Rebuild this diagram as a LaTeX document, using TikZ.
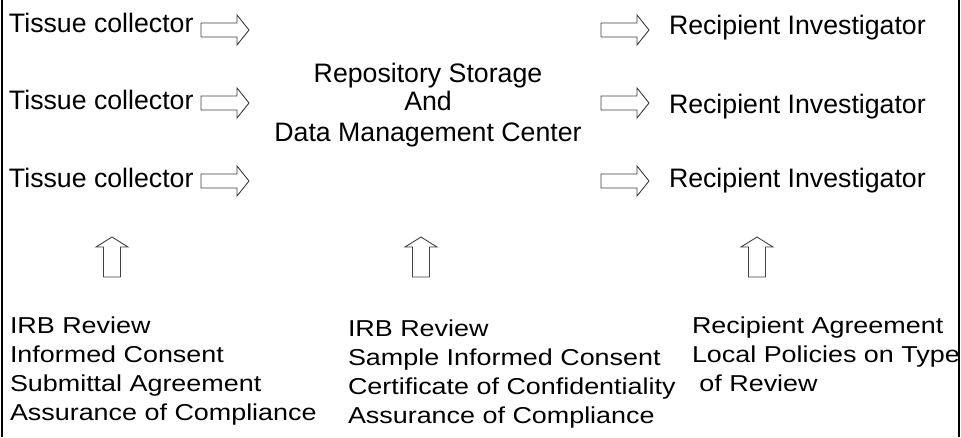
\documentclass[tikz,border=0pt]{standalone}
\usepackage{fontspec}
\setmainfont{Liberation Sans}
\newfontfamily\widesans[FakeStretch=1.17]{Liberation Sans}
\begin{document}
\begin{tikzpicture}[x=1pt,y=-1pt,
  every node/.style={inner sep=0pt, outer sep=0pt},
  toplabel/.style={font=\fontsize{26.7}{30}\selectfont, anchor=base west},
  midlabel/.style={font=\fontsize{26.7}{30}\selectfont, anchor=base},
  botlabel/.style={font=\widesans\fontsize{23}{29}\selectfont, anchor=base west},
  outline/.style={draw=black!75, line width=0.9pt, fill=white, line join=miter},
  rule/.style={draw=black, line width=2.3pt},
  rightarrow/.pic={\path[outline] (0,-7) -- (36,-7) -- (36,-15) -- (48,0) -- (36,15) -- (36,7) -- (0,7) -- cycle;},
  uparrow/.pic={\path[outline] (-8.5,0) -- (-8.5,-30) -- (-16,-30) -- (0,-40) -- (16,-30) -- (8.5,-30) -- (8.5,0) -- cycle;}
]
\useasboundingbox (0,0) rectangle (961,437);

% side rules
\coordinate (lt) at (2,0);   \coordinate (lb) at (2,437);
\coordinate (rt) at (959,0); \coordinate (rb) at (959,437);
\draw[rule] (lt) -- (lb);
\draw[rule] (rt) -- (rb);

% collectors
\node[toplabel] (tc1) at (9,32)  {Tissue collector};
\node[toplabel] (tc2) at (9,109) {Tissue collector};
\node[toplabel] (tc3) at (9,187) {Tissue collector};
\pic at (201,30)  {rightarrow};
\pic at (201,103) {rightarrow};
\pic at (201,181) {rightarrow};

% repository
\node[midlabel] (rep1) at (428,82)  {Repository Storage};
\node[midlabel] (rep2) at (428,110) {And};
\node[midlabel] (rep3) at (428,141) {Data Management Center};

% recipients
\pic at (601,30)  {rightarrow};
\pic at (601,103) {rightarrow};
\pic at (601,181) {rightarrow};
\node[toplabel] (ri1) at (669,34)  {Recipient Investigator};
\node[toplabel] (ri2) at (669,113) {Recipient Investigator};
\node[toplabel] (ri3) at (669,187) {Recipient Investigator};

% upward arrows
\pic at (112,277) {uparrow};
\pic at (421,277) {uparrow};
\pic at (757,277) {uparrow};

% requirements, collector side
\node[botlabel] (a1) at (10,333) {IRB Review};
\node[botlabel] (a2) at (10,362) {Informed Consent};
\node[botlabel] (a3) at (10,391) {Submittal Agreement};
\node[botlabel] (a4) at (10,420) {Assurance of Compliance};

% requirements, repository side
\node[botlabel] (b1) at (348,336) {IRB Review};
\node[botlabel] (b2) at (348,365) {Sample Informed Consent};
\node[botlabel] (b3) at (348,394) {Certificate of Confidentiality};
\node[botlabel] (b4) at (348,423) {Assurance of Compliance};

% requirements, recipient side
\node[botlabel] (c1) at (692,333) {Recipient Agreement};
\node[botlabel] (c2) at (692,362) {Local Policies on Type};
\node[botlabel] (c3) at (692,391) {\ of Review};
\end{tikzpicture}
\end{document}
